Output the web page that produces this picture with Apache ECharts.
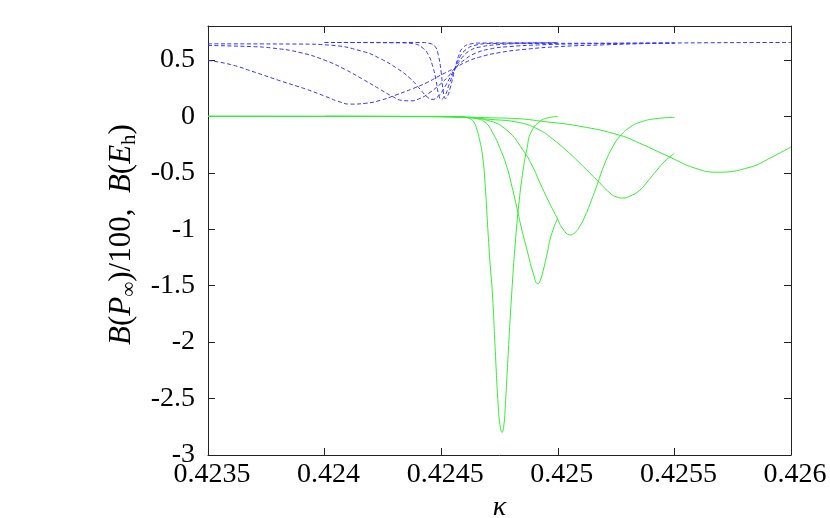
<!DOCTYPE html>
<html>
<head>
<meta charset="utf-8">
<script src="https://cdn.jsdelivr.net/npm/echarts@6/dist/echarts.min.js"></script>
<style>
  html, body { margin: 0; padding: 0; background: #fff; }
  #main { width: 830px; height: 518px; }
</style>
</head>
<body>
<div id="main"></div>
<script>
// kappa values (x) and B values (y), one pair of arrays per curve

// green: B(E_h)
var kG1 = [0.424, 0.42441, 0.42456, 0.424602, 0.424624, 0.424641, 0.424654, 0.424667, 0.424677, 0.424688, 0.424701, 0.42471, 0.42472, 0.424731, 0.424744, 0.424752, 0.424761, 0.424769, 0.424774, 0.424787, 0.424802, 0.424817, 0.424834, 0.424851, 0.424868, 0.424885, 0.424924, 0.424958, 0.425];
var vG1 = [0, -0.002, -0.004, -0.009, -0.022, -0.053, -0.124, -0.23, -0.345, -0.592, -1.034, -1.316, -1.581, -2.041, -2.553, -2.73, -2.8, -2.73, -2.597, -2.111, -1.581, -1.14, -0.76, -0.477, -0.283, -0.141, -0.044, -0.013, -0.002];

var kG2 = [0.424, 0.424495, 0.424581, 0.424645, 0.424688, 0.424722, 0.424752, 0.424782, 0.424804, 0.424824, 0.424842, 0.424868, 0.424894, 0.424915, 0.424924, 0.424937, 0.424954, 0.424971, 0.425];
var vG2 = [0, -0.001, -0.004, -0.018, -0.053, -0.15, -0.283, -0.451, -0.627, -0.804, -0.972, -1.184, -1.387, -1.484, -1.458, -1.369, -1.219, -1.06, -0.901];

var kG3 = [0.4235, 0.424495, 0.424602, 0.424697, 0.424782, 0.424851, 0.424889, 0.424924, 0.424958, 0.424995, 0.425022, 0.425052, 0.425074, 0.425095, 0.425117, 0.425138, 0.425168, 0.425202, 0.425237, 0.425266, 0.425309, 0.425352, 0.425416, 0.4255];
var vG3 = [0, -0.001, -0.009, -0.035, -0.124, -0.3, -0.433, -0.592, -0.742, -0.892, -0.998, -1.051, -1.029, -0.972, -0.883, -0.777, -0.61, -0.415, -0.265, -0.177, -0.097, -0.053, -0.022, -0.009];

var kG4 = [0.4235, 0.42441, 0.424581, 0.42471, 0.424838, 0.424924, 0.424979, 0.425031, 0.425082, 0.425138, 0.425168, 0.425224, 0.425254, 0.425279, 0.425309, 0.425352, 0.425386, 0.425425, 0.425459, 0.4255];
var vG4 = [0, -0.002, -0.009, -0.027, -0.057, -0.124, -0.203, -0.292, -0.389, -0.504, -0.565, -0.68, -0.716, -0.724, -0.707, -0.654, -0.574, -0.477, -0.398, -0.327];

var kG5 = [0.4235, 0.42441, 0.424564, 0.42471, 0.424838, 0.424924, 0.425095, 0.425266, 0.425352, 0.425481, 0.425588, 0.425682, 0.425824, 0.425909, 0.426];
var vG5 = [0, -0.003, -0.006, -0.013, -0.022, -0.042, -0.088, -0.168, -0.239, -0.362, -0.459, -0.495, -0.451, -0.371, -0.271];

// blue dashed: B(P_inf)/100
var kB1 = [0.4235, 0.423596, 0.423703, 0.42381, 0.423917, 0.424003, 0.424058, 0.42411, 0.424174, 0.424238, 0.424302, 0.42438, 0.42444, 0.424495, 0.42453, 0.42456, 0.424602, 0.424667, 0.424752, 0.424851, 0.425009, 0.425181, 0.425395, 0.425609, 0.426];
var vB1 = [0.495, 0.459, 0.389, 0.314, 0.243, 0.177, 0.133, 0.108, 0.115, 0.141, 0.186, 0.247, 0.3, 0.362, 0.398, 0.428, 0.477, 0.526, 0.565, 0.592, 0.618, 0.632, 0.645, 0.651, 0.654];

var kB2 = [0.4235, 0.423681, 0.423775, 0.423895, 0.424003, 0.424088, 0.424165, 0.424238, 0.42429, 0.424332, 0.424367, 0.42441, 0.424452, 0.424495, 0.42453, 0.42456, 0.424602, 0.424645, 0.42471, 0.424795, 0.424924, 0.425095, 0.4255];
var vB2 = [0.627, 0.618, 0.605, 0.565, 0.495, 0.415, 0.327, 0.239, 0.177, 0.141, 0.137, 0.159, 0.212, 0.283, 0.353, 0.428, 0.504, 0.557, 0.597, 0.618, 0.633, 0.642, 0.649];

var kB3 = [0.4235, 0.423895, 0.424024, 0.424165, 0.424238, 0.424311, 0.424367, 0.42441, 0.42444, 0.424461, 0.424487, 0.424517, 0.424538, 0.42456, 0.42459, 0.424624, 0.424667, 0.424752, 0.424881, 0.4255];
var vB3 = [0.642, 0.64, 0.63, 0.574, 0.512, 0.424, 0.336, 0.239, 0.172, 0.15, 0.177, 0.265, 0.345, 0.428, 0.521, 0.583, 0.614, 0.636, 0.645, 0.649];

var kB4 = [0.424, 0.424324, 0.424388, 0.424418, 0.424444, 0.424465, 0.424478, 0.424487, 0.4245, 0.424517, 0.424534, 0.42456, 0.424581, 0.424607, 0.424641, 0.42471, 0.425];
var vB4 = [0.654, 0.651, 0.64, 0.61, 0.548, 0.433, 0.318, 0.212, 0.15, 0.186, 0.283, 0.428, 0.53, 0.592, 0.627, 0.645, 0.651];

var kB5 = [0.424, 0.42441, 0.424452, 0.424474, 0.424487, 0.4245, 0.424508, 0.424517, 0.424525, 0.424538, 0.424551, 0.42456, 0.424577, 0.424594, 0.424624, 0.424667, 0.425];
var vB5 = [0.654, 0.654, 0.645, 0.618, 0.548, 0.389, 0.23, 0.159, 0.168, 0.247, 0.353, 0.428, 0.548, 0.61, 0.64, 0.649, 0.651];

var xMin = 0.4235, xMax = 0.426, xStep = 0.0005;
var yMin = -3, yMax = 0.8, yStep = 0.5;

var FONT = '"Liberation Serif", "DejaVu Serif", serif';
var GREEN = '#33ee33';
var BLUE = '#3333ff';

function pairs(k, v) {
  return k.map(function (x, i) { return [x, v[i]]; });
}

function curve(k, v, color, dashed) {
  return {
    type: 'line',
    data: pairs(k, v),
    showSymbol: false,
    smooth: 0.5,
    lineStyle: { color: color, width: 1, type: dashed ? [4, 2.5] : 'solid' },
    z: dashed ? 3 : 2
  };
}

function yLabel(val) {
  var r = Math.round(val / yStep);
  if (Math.abs(val - r * yStep) > 1e-9) return '';
  return String(+val.toFixed(1));
}

var axisLineStyle = { color: '#222', width: 1 };

var option = {
  animation: false,
  grid: { left: 208, right: 39, top: 26, bottom: 63, containLabel: false, outerBoundsMode: 'none' },
  xAxis: [
    {
      type: 'value', min: xMin, max: xMax, interval: xStep, position: 'bottom',
      axisLine: { onZero: false, lineStyle: axisLineStyle },
      axisTick: { inside: true, length: 7, lineStyle: axisLineStyle },
      splitLine: { show: false },
      axisLabel: {
        margin: 6, color: '#000', fontFamily: FONT, fontSize: 28, padding: [0, 0, 0, 8],
        formatter: function (v) { return String(+v.toFixed(4)); }
      },
      name: 'κ', nameLocation: 'middle', nameGap: 33,
      nameTextStyle: { color: '#000', fontFamily: FONT, fontSize: 28, fontStyle: 'italic' }
    },
    {
      type: 'value', min: xMin, max: xMax, interval: xStep, position: 'top',
      axisLine: { onZero: false, lineStyle: axisLineStyle },
      axisTick: { inside: true, length: 7, lineStyle: axisLineStyle },
      splitLine: { show: false },
      axisLabel: { show: false }
    }
  ],
  yAxis: [
    {
      type: 'value', min: yMin, max: yMax, interval: yStep, position: 'left',
      axisLine: { show: true, onZero: false, lineStyle: axisLineStyle },
      axisTick: { show: true, inside: true, length: 7, lineStyle: axisLineStyle },
      splitLine: { show: false },
      axisLabel: { margin: 13, color: '#000', fontFamily: FONT, fontSize: 28, formatter: yLabel },
      name: '{i|B}({i|P}{s|∞})/100,  {i|B}({i|E}{s|h})',
      nameLocation: 'middle', nameRotate: 90, nameGap: 64,
      nameTextStyle: {
        color: '#000', fontFamily: FONT, fontSize: 31, padding: [0, 0, 0, 12],
        rich: {
          i: { fontFamily: FONT, fontSize: 31, fontStyle: 'italic', color: '#000', lineHeight: 36 },
          s: { fontFamily: FONT, fontSize: 21, color: '#000', lineHeight: 21, verticalAlign: 'bottom' }
        }
      }
    },
    {
      type: 'value', min: yMin, max: yMax, interval: yStep, position: 'right',
      axisLine: { show: true, onZero: false, lineStyle: axisLineStyle },
      axisTick: { show: true, inside: true, length: 7, lineStyle: axisLineStyle },
      splitLine: { show: false },
      axisLabel: { show: false }
    }
  ],
  series: [
    curve(kB1, vB1, BLUE, true),
    curve(kB2, vB2, BLUE, true),
    curve(kB3, vB3, BLUE, true),
    curve(kB4, vB4, BLUE, true),
    curve(kB5, vB5, BLUE, true),
    curve(kG1, vG1, GREEN, false),
    curve(kG2, vG2, GREEN, false),
    curve(kG3, vG3, GREEN, false),
    curve(kG4, vG4, GREEN, false),
    curve(kG5, vG5, GREEN, false)
  ]
};

var chartDom = document.getElementById('main');
var myChart = echarts.init(chartDom, null, { renderer: 'canvas' });
myChart.setOption(option);
</script>
</body>
</html>
